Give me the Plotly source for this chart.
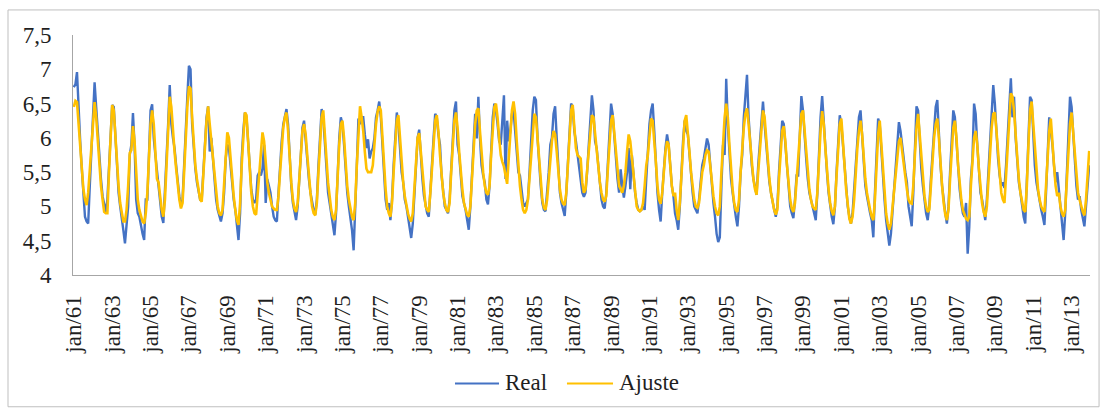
import plotly.graph_objects as go

# Monthly series, jan/1961 .. dec/2013, one row per year
real_rows = [
    [6.74, 6.78, 6.96, 6.4, 5.95, 5.55, 5.2, 4.85, 4.78, 4.75, 5.3, 5.75],   # 1961
    [6.25, 6.81, 6.45, 6.05, 5.7, 5.4, 5.15, 5.0, 4.92, 5.1, 5.6, 6.1],
    [6.48, 6.45, 6.0, 5.6, 5.2, 5.0, 4.85, 4.65, 4.46, 4.8, 5.0, 5.75],
    [5.9, 6.36, 5.9, 5.1, 4.9, 4.85, 4.7, 4.6, 4.51, 5.1, 5.1, 5.8],
    [6.4, 6.49, 6.0, 5.75, 5.5, 5.35, 5.1, 4.85, 4.76, 5.2, 5.6, 6.2],
    [6.77, 6.2, 6.0, 5.85, 5.6, 5.35, 5.15, 5.0, 5.1, 5.6, 6.2, 6.6],
    [7.05, 7.0, 6.2, 5.8, 5.55, 5.35, 5.2, 5.1, 5.1, 5.5, 5.9, 6.3],
    [6.46, 5.8, 6.0, 5.65, 5.35, 5.1, 4.95, 4.85, 4.78, 4.9, 5.2, 5.7],
    [5.9, 5.86, 5.6, 5.3, 5.1, 4.95, 4.75, 4.51, 4.9, 5.7, 6.1, 6.37],
    [6.3, 5.9, 5.5, 5.25, 5.1, 5.05, 5.1, 5.45, 5.5, 5.45, 5.55, 5.9],      # 1970
    [5.05, 5.4, 5.3, 5.2, 5.0, 4.85, 4.8, 4.78, 5.2, 5.6, 5.95, 6.2],
    [6.3, 6.42, 6.2, 5.7, 5.3, 5.05, 4.9, 4.8, 5.0, 5.45, 5.9, 6.15],
    [6.25, 5.95, 5.7, 5.4, 5.2, 5.05, 4.95, 4.88, 5.1, 5.6, 6.1, 6.42],
    [6.3, 5.95, 5.55, 5.2, 5.05, 4.9, 4.75, 4.58, 4.9, 5.5, 6.0, 6.3],
    [6.2, 5.9, 5.5, 5.2, 5.0, 4.85, 4.65, 4.36, 4.9, 5.6, 6.28, 6.2],
    [6.3, 6.3, 6.05, 5.85, 5.98, 5.7, 5.8, 5.85, 6.0, 6.3, 6.4, 6.53],
    [6.3, 5.9, 5.5, 5.1, 4.95, 5.05, 4.8, 5.1, 5.6, 6.0, 6.37, 6.2],
    [5.8, 5.5, 5.35, 5.1, 5.0, 4.85, 4.65, 4.54, 4.75, 5.2, 5.75, 6.0],
    [6.12, 5.7, 5.4, 5.15, 5.0, 4.9, 4.85, 5.3, 5.7, 6.0, 6.35, 6.3],
    [6.05, 5.9, 5.45, 5.2, 5.0, 4.95, 4.9, 5.1, 5.6, 6.1, 6.4, 6.53],       # 1980
    [5.9, 5.75, 5.4, 5.15, 5.05, 4.95, 4.8, 4.66, 5.0, 5.5, 6.0, 6.35],
    [5.99, 6.6, 6.0, 5.6, 5.45, 5.35, 5.1, 5.03, 5.3, 5.8, 6.3, 6.5],
    [6.4, 6.2, 5.95, 5.9, 6.2, 6.62, 5.4, 6.25, 5.95, 6.1, 6.35, 6.4],
    [6.1, 5.75, 5.5, 5.45, 5.2, 5.05, 5.0, 5.05, 5.1, 5.5, 5.9, 6.4],
    [6.6, 6.55, 6.0, 5.6, 5.3, 5.05, 4.95, 4.93, 5.2, 5.5, 5.9, 6.0],
    [6.35, 6.46, 6.0, 5.5, 5.2, 5.05, 4.95, 4.86, 5.2, 5.7, 6.1, 6.5],
    [6.45, 6.1, 5.95, 5.75, 5.6, 5.4, 5.2, 5.14, 5.2, 5.5, 5.9, 6.2],
    [6.62, 6.4, 5.95, 5.85, 5.6, 5.4, 5.1, 5.0, 4.97, 5.2, 5.7, 6.1],
    [6.5, 6.35, 6.0, 5.7, 5.4, 5.2, 5.54, 5.3, 5.13, 5.3, 5.5, 5.85],
    [5.25, 5.75, 5.4, 5.2, 5.05, 4.95, 4.93, 4.95, 5.0, 4.95, 5.4, 5.8],    # 1990
    [6.2, 6.4, 6.5, 6.1, 5.6, 5.2, 4.95, 4.78, 5.2, 5.6, 5.85, 6.05],
    [5.9, 5.6, 5.3, 5.15, 4.9, 4.8, 4.66, 5.0, 5.5, 5.95, 6.25, 6.1],
    [6.05, 5.75, 5.4, 5.2, 5.0, 4.95, 4.9, 5.1, 5.4, 5.6, 5.7, 5.85],
    [5.99, 5.9, 5.6, 5.3, 5.05, 4.85, 4.6, 4.48, 4.55, 5.3, 5.9, 5.75],
    [6.86, 6.2, 5.8, 5.4, 5.2, 5.0, 4.85, 4.71, 5.0, 5.5, 5.75, 6.3],
    [6.6, 6.92, 6.3, 5.9, 5.6, 5.4, 5.25, 5.17, 5.6, 5.9, 6.2, 6.53],
    [6.2, 5.9, 5.55, 5.35, 5.2, 5.05, 4.95, 4.85, 5.0, 5.5, 5.9, 6.25],
    [6.2, 5.9, 5.5, 5.2, 5.0, 4.9, 4.83, 5.1, 5.45, 5.45, 6.0, 6.61],
    [6.4, 6.0, 5.7, 5.4, 5.2, 5.1, 5.0, 4.9, 4.8, 5.2, 5.8, 6.3],
    [6.61, 6.2, 5.8, 5.5, 5.2, 5.0, 4.85, 4.74, 5.0, 5.5, 5.9, 6.33],       # 2000
    [6.2, 5.9, 5.6, 5.3, 5.0, 4.85, 4.75, 4.9, 5.2, 5.6, 5.95, 6.3],
    [6.4, 6.0, 5.6, 5.3, 5.15, 5.0, 4.9, 4.8, 4.55, 5.2, 5.7, 6.28],
    [6.2, 5.8, 5.4, 5.1, 4.8, 4.6, 4.43, 4.6, 4.9, 5.3, 5.6, 5.9],
    [6.23, 6.1, 5.85, 5.7, 5.5, 5.35, 5.0, 4.85, 4.71, 5.2, 5.8, 6.46],
    [6.4, 5.95, 5.55, 5.3, 5.05, 4.9, 4.8, 5.0, 5.4, 5.8, 6.2, 6.45],
    [6.55, 6.0, 5.6, 5.3, 5.05, 4.9, 4.75, 5.0, 5.5, 5.9, 6.4, 6.3],
    [5.9, 5.5, 5.25, 5.05, 4.9, 4.85, 5.05, 4.31, 4.7, 5.4, 5.7, 6.5],
    [6.35, 5.9, 5.5, 5.2, 5.1, 4.95, 4.8, 5.1, 5.5, 5.9, 6.3, 6.77],
    [6.5, 6.0, 5.7, 5.45, 5.3, 5.35, 5.27, 5.6, 6.0, 6.5, 6.87, 6.3],
    [6.6, 6.0, 5.6, 5.35, 5.2, 5.0, 4.85, 4.75, 5.3, 5.9, 6.6, 6.55],       # 2010
    [6.0, 5.6, 5.35, 5.2, 5.05, 4.95, 4.85, 4.73, 5.2, 5.7, 6.3, 6.1],
    [5.9, 5.6, 5.35, 5.5, 5.25, 4.9, 4.7, 4.51, 4.9, 5.5, 6.0, 6.6],
    [6.45, 6.0, 5.6, 5.3, 5.1, 5.15, 4.95, 4.8, 4.71, 5.0, 5.3, 5.6],       # 2013
]

ajuste_rows = [
    [6.45, 6.54, 6.52, 6.2, 5.85, 5.5, 5.25, 5.1, 5.02, 5.2, 5.55, 5.95],   # 1961
    [6.3, 6.52, 6.3, 5.95, 5.6, 5.3, 5.1, 4.92, 4.9, 4.9, 5.5, 6.05],
    [6.48, 6.4, 6.0, 5.65, 5.3, 5.05, 4.9, 4.78, 4.78, 4.95, 5.3, 5.78],
    [5.82, 6.17, 5.95, 5.4, 5.1, 4.95, 4.85, 4.78, 4.75, 4.9, 5.2, 5.7],
    [6.2, 6.4, 6.2, 5.8, 5.4, 5.35, 5.15, 4.95, 4.85, 5.1, 5.6, 6.15],
    [6.6, 6.45, 6.05, 5.8, 5.55, 5.3, 5.1, 4.97, 5.05, 5.5, 6.0, 6.45],
    [6.75, 6.72, 6.3, 5.9, 5.6, 5.4, 5.25, 5.1, 5.07, 5.4, 5.85, 6.25],
    [6.46, 6.2, 5.95, 5.7, 5.45, 5.2, 5.0, 4.9, 4.87, 4.95, 5.3, 5.75],
    [6.08, 6.0, 5.7, 5.4, 5.15, 4.95, 4.8, 4.73, 5.05, 5.6, 6.05, 6.37],
    [6.33, 5.9, 5.5, 5.2, 5.0, 4.9, 4.88, 5.2, 5.55, 5.85, 6.08, 5.95],     # 1970
    [5.6, 5.35, 5.2, 5.1, 5.0, 4.97, 4.95, 4.95, 5.15, 5.5, 5.85, 6.15],
    [6.3, 6.37, 6.1, 5.7, 5.35, 5.1, 4.97, 4.92, 5.05, 5.4, 5.8, 6.1],
    [6.2, 6.05, 5.75, 5.45, 5.2, 5.0, 4.9, 4.87, 5.05, 5.5, 5.95, 6.3],
    [6.4, 6.1, 5.7, 5.35, 5.1, 4.95, 4.85, 4.8, 4.95, 5.45, 5.9, 6.2],
    [6.25, 6.0, 5.6, 5.3, 5.1, 4.95, 4.85, 4.8, 5.05, 5.6, 6.1, 6.46],
    [6.3, 6.1, 5.8, 5.55, 5.5, 5.5, 5.5, 5.6, 5.95, 6.2, 6.38, 6.46],
    [6.4, 6.0, 5.6, 5.25, 5.0, 4.9, 4.85, 5.05, 5.5, 5.95, 6.25, 6.33],
    [6.0, 5.65, 5.35, 5.15, 5.0, 4.9, 4.82, 4.78, 4.9, 5.3, 5.7, 6.0],
    [6.07, 5.8, 5.45, 5.2, 5.0, 4.95, 4.92, 5.2, 5.6, 6.0, 6.25, 6.33],
    [6.1, 5.75, 5.45, 5.2, 5.05, 4.95, 4.92, 5.05, 5.5, 5.95, 6.25, 6.37],  # 1980
    [6.15, 5.8, 5.5, 5.25, 5.05, 4.95, 4.88, 4.85, 5.0, 5.4, 5.85, 6.2],
    [6.4, 6.43, 6.1, 5.75, 5.5, 5.3, 5.2, 5.17, 5.3, 5.75, 6.2, 6.45],
    [6.5, 6.3, 6.0, 5.75, 5.65, 5.58, 5.45, 5.33, 5.7, 6.1, 6.4, 6.53],
    [6.35, 5.95, 5.6, 5.3, 5.1, 4.95, 4.9, 4.95, 5.1, 5.45, 5.8, 6.15],
    [6.35, 6.3, 6.0, 5.65, 5.35, 5.1, 4.98, 4.95, 5.1, 5.4, 5.7, 5.95],
    [6.1, 6.05, 5.8, 5.5, 5.25, 5.1, 5.04, 5.02, 5.2, 5.6, 6.05, 6.4],
    [6.48, 6.2, 5.85, 5.75, 5.73, 5.7, 5.35, 5.2, 5.25, 5.55, 5.85, 6.15],
    [6.33, 6.3, 6.05, 5.8, 5.55, 5.35, 5.2, 5.1, 5.07, 5.15, 5.55, 5.95],
    [6.25, 6.33, 6.05, 5.75, 5.5, 5.3, 5.25, 5.2, 5.3, 5.5, 5.8, 6.05],
    [5.95, 5.7, 5.4, 5.15, 5.0, 4.95, 4.93, 4.95, 5.05, 5.3, 5.6, 5.75],    # 1990
    [6.05, 6.28, 6.25, 6.0, 5.65, 5.3, 5.1, 5.04, 5.2, 5.5, 5.8, 5.95],
    [5.9, 5.6, 5.3, 5.15, 5.2, 4.95, 4.8, 5.05, 5.5, 5.95, 6.25, 6.33],
    [6.1, 5.8, 5.5, 5.25, 5.1, 5.0, 4.98, 5.05, 5.3, 5.5, 5.6, 5.75],
    [5.82, 5.8, 5.6, 5.35, 5.15, 5.0, 4.9, 4.87, 5.0, 5.5, 5.95, 6.3],
    [6.5, 6.3, 5.9, 5.55, 5.25, 5.05, 4.95, 4.92, 5.1, 5.5, 5.85, 6.15],
    [6.35, 6.43, 6.2, 5.9, 5.6, 5.4, 5.25, 5.17, 5.5, 5.85, 6.2, 6.4],
    [6.3, 5.95, 5.65, 5.4, 5.2, 5.05, 4.95, 4.88, 4.95, 5.4, 5.8, 6.1],
    [6.17, 5.95, 5.6, 5.3, 5.1, 4.97, 4.92, 5.05, 5.4, 5.75, 6.1, 6.35],
    [6.4, 6.1, 5.75, 5.45, 5.25, 5.1, 5.0, 4.97, 4.95, 5.2, 5.7, 6.1],
    [6.39, 6.2, 5.85, 5.5, 5.25, 5.05, 4.93, 4.87, 5.0, 5.45, 5.9, 6.2],    # 2000
    [6.28, 6.0, 5.6, 5.25, 5.0, 4.82, 4.75, 4.85, 5.1, 5.5, 5.85, 6.1],
    [6.25, 6.05, 5.7, 5.4, 5.2, 5.05, 4.95, 4.85, 4.8, 5.1, 5.6, 6.05],
    [6.25, 5.9, 5.5, 5.15, 4.9, 4.75, 4.66, 4.75, 5.0, 5.3, 5.55, 5.8],
    [5.95, 6.0, 5.8, 5.6, 5.4, 5.25, 5.1, 5.05, 5.04, 5.3, 5.75, 6.15],
    [6.35, 6.05, 5.7, 5.4, 5.15, 5.0, 4.92, 4.95, 5.3, 5.7, 6.0, 6.2],
    [6.28, 6.0, 5.6, 5.3, 5.05, 4.88, 4.8, 4.95, 5.4, 5.85, 6.15, 6.25],
    [6.0, 5.6, 5.3, 5.1, 4.95, 4.87, 4.82, 4.8, 4.85, 5.3, 5.75, 6.0],
    [6.1, 5.9, 5.55, 5.25, 5.05, 4.92, 4.85, 5.0, 5.4, 5.8, 6.15, 6.35],
    [6.37, 6.1, 5.75, 5.45, 5.2, 5.1, 5.05, 5.45, 5.9, 6.35, 6.65, 6.6],
    [6.4, 6.05, 5.7, 5.4, 5.2, 5.05, 4.95, 4.92, 5.3, 5.9, 6.4, 6.53],      # 2010
    [6.2, 5.8, 5.5, 5.25, 5.1, 5.0, 4.95, 4.92, 5.3, 5.75, 6.1, 6.28],
    [6.0, 5.6, 5.3, 5.15, 5.2, 5.0, 4.9, 4.85, 4.95, 5.4, 5.85, 6.2],
    [6.37, 6.1, 5.75, 5.45, 5.2, 5.1, 5.0, 4.92, 4.87, 5.1, 5.45, 5.81],    # 2013
]

first_year = 1961
tick_years = list(range(1961, 2014, 2))
tick_labels = ["jan/%02d" % (y % 100) for y in tick_years]
y_ticks = [4, 4.5, 5, 5.5, 6, 6.5, 7, 7.5]
y_tick_labels = ["4", "4,5", "5", "5,5", "6", "6,5", "7", "7,5"]
series_names = ["Real", "Ajuste"]
series_colors = ["#4472C4", "#FFC000"]

real = [v for row in real_rows for v in row]
ajuste = [v for row in ajuste_rows for v in row]
months = list(range(len(real)))
tick_positions = [12 * (y - first_year) for y in tick_years]

serif = "Liberation Serif, Times New Roman, serif"
text_color = "#1f1f1f"
font_size = 23

fig = go.Figure()
fig.add_trace(go.Scatter(
    x=months, y=real, mode="lines", name=series_names[0],
    line=dict(color=series_colors[0], width=2.4), showlegend=False,
))
fig.add_trace(go.Scatter(
    x=months, y=ajuste, mode="lines", name=series_names[1],
    line=dict(color=series_colors[1], width=2.6), showlegend=False,
))

# outer chart border
fig.add_shape(
    type="rect", xref="paper", yref="paper",
    x0=-0.0639, x1=1.0089, y0=-0.549, y1=1.1044,
    line=dict(color="#BFBFBF", width=1), fillcolor="rgba(0,0,0,0)",
    layer="below",
)

# legend below the axis: a short line sample followed by the series name
legend_y = -0.452
legend_items = [(0.3756, 0.4189, 0.4228), (0.4857, 0.5310, 0.5349)]
for (lx0, lx1, tx), name, color in zip(legend_items, series_names, series_colors):
    fig.add_shape(
        type="line", xref="paper", yref="paper",
        x0=lx0, x1=lx1, y0=legend_y, y1=legend_y,
        line=dict(color=color, width=2.2),
    )
    fig.add_annotation(
        xref="paper", yref="paper", x=tx, y=legend_y + 0.004,
        text=name, showarrow=False, xanchor="left", yanchor="middle",
        font=dict(family=serif, size=font_size, color=text_color),
    )

fig.update_layout(
    width=1103, height=412,
    margin=dict(l=73, r=13, t=35, b=137, pad=0),
    paper_bgcolor="white", plot_bgcolor="white",
    font=dict(family=serif, size=font_size, color=text_color),
    showlegend=False,
    xaxis=dict(
        range=[-0.5, len(real) - 0.5],
        tickmode="array", tickvals=tick_positions, ticktext=tick_labels,
        tickangle=-90, showgrid=False, zeroline=False,
        showline=True, linecolor="#A6A6A6", linewidth=1,
        ticks="", ticklabelstandoff=10,
        tickfont=dict(family=serif, size=font_size, color=text_color),
    ),
    yaxis=dict(
        range=[4, 7.5],
        tickmode="array", tickvals=y_ticks, ticktext=y_tick_labels,
        showgrid=False, zeroline=False,
        showline=True, linecolor="#A6A6A6", linewidth=1,
        ticks="", ticklabelstandoff=16,
        tickfont=dict(family=serif, size=font_size, color=text_color),
    ),
)

fig.write_html("out.html")
